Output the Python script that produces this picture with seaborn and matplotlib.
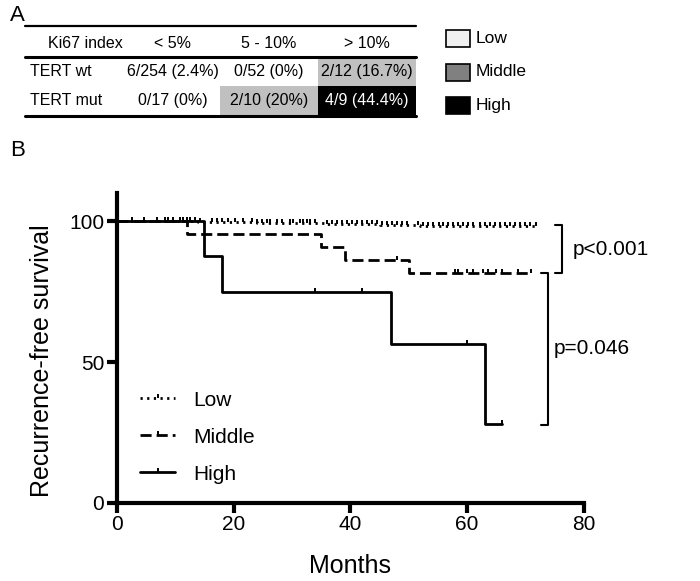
"""Ki67 / TERT table and recurrence-free survival curves"""
import matplotlib
matplotlib.use("Agg")
import matplotlib.pyplot as plt
from matplotlib.lines import Line2D
from matplotlib.patches import Rectangle
import seaborn as sns
import pandas as pd
import numpy as np

sns.set_style("white", {'axes.edgecolor': 'black', 'text.color': 'black',
                        'xtick.color': 'black', 'ytick.color': 'black',
                        'axes.labelcolor': 'black'})
plt.rcParams['font.family'] = ['Liberation Sans', 'DejaVu Sans']

# ---- panel A data ----
col_labels = ['Ki67 index', '< 5%', '5 - 10%', '> 10%']
row_labels = ['TERT wt', 'TERT mut']
cell_text = [['6/254 (2.4%)', '0/52 (0%)', '2/12 (16.7%)'],
             ['0/17 (0%)', '2/10 (20%)', '4/9 (44.4%)']]
cell_level = [['Low', 'Low', 'Middle'],
              ['Low', 'Middle', 'High']]
level_names = ['Low', 'Middle', 'High']

# ---- panel B data (Kaplan-Meier steps) ----
low_t = [0, 14, 24, 36, 45, 52, 60, 72]
low_s = [100, 99.7, 99.4, 99.0, 98.7, 98.4, 98.2, 98.2]
mid_t = [0, 12, 35, 39, 50, 71]
mid_s = [100, 95.5, 90.9, 86.2, 81.6, 81.6]
high_t = [0, 15, 18, 47, 63, 66]
high_s = [100, 87.5, 75.0, 56.25, 28.1, 28.1]

low_cens = [2.6, 4.7, 6.9, 8.3, 8.8, 9.6, 10.8, 11.4, 12.0, 12.5, 13.4, 14.3,
            16.3, 17.2, 18.0, 19.0, 20.2, 21.6, 23.1, 24.0, 24.9, 25.7, 26.2,
            27.4, 28.3, 29.7, 30.2, 31.4, 31.9, 32.6, 33.1, 34.0, 36.0, 36.9,
            37.7, 38.6, 39.4, 40.3, 41.2, 42.0, 42.9, 43.7, 44.6, 45.5, 46.3,
            47.1, 48.0, 48.9, 49.7, 51.6, 52.5, 53.3, 54.2, 55.1, 55.9, 56.8,
            57.6, 58.5, 59.3, 60.2, 61.0, 62.2, 63.1, 63.9, 64.8, 65.6, 66.5,
            67.4, 68.2, 69.1, 69.9, 70.8, 71.7]
mid_cens = [48, 58, 58.5, 60, 61, 62.7, 63.6, 65, 66, 68.7, 71]
high_cens = [34, 42, 60, 66]

p_labels = ['p<0.001', 'p=0.046']

fig = plt.figure(figsize=(7, 5.81), dpi=100)

# ================= panel A : table =================
ax_a = fig.add_axes([0, 1 - 130 / 581, 1, 130 / 581])
ax_a.set_xlim(0, 700)
ax_a.set_ylim(130, 0)
ax_a.axis('off')

fill = {'Low': 'white', 'Middle': '#c0c0c0', 'High': 'black'}
box_fill = {'Low': '#f0f0f0', 'Middle': '#808080', 'High': 'black'}
col_edges = [25, 125, 220, 318, 416]
row_edges = [57, 86, 115]

fig.text(0.014, 0.974, 'A', fontsize=16, va='center', ha='left')

ax_a.plot([25, 416], [26, 26], color='black', lw=1.6)
ax_a.plot([25, 416], [56.5, 56.5], color='black', lw=2.2)
ax_a.plot([25, 416], [116, 116], color='black', lw=2.2)

ax_a.text(85, 43, col_labels[0], ha='center', va='center', fontsize=11.5)
for j, lab in enumerate(col_labels[1:]):
    xc = (col_edges[j + 1] + col_edges[j + 2]) / 2
    ax_a.text(xc, 43, lab, ha='center', va='center', fontsize=11.5)

for i, rl in enumerate(row_labels):
    y0, y1 = row_edges[i], row_edges[i + 1]
    yc = (y0 + y1) / 2
    ax_a.text(30, yc, rl, ha='left', va='center', fontsize=11.5)
    for j, txt in enumerate(cell_text[i]):
        x0, x1 = col_edges[j + 1], col_edges[j + 2]
        lvl = cell_level[i][j]
        ax_a.add_patch(Rectangle((x0, y0), x1 - x0, y1 - y0,
                                 facecolor=fill[lvl], edgecolor='none'))
        ax_a.text((x0 + x1) / 2, yc, txt, ha='center', va='center',
                  fontsize=11.5, color='white' if lvl == 'High' else 'black')

# colour key
for k, lvl in enumerate(level_names):
    yb = 30 + k * 33.5
    ax_a.add_patch(Rectangle((446, yb), 24, 17, facecolor=box_fill[lvl],
                             edgecolor='black', lw=1.2))
    ax_a.text(476, yb + 8.5, lvl, ha='left', va='center', fontsize=12.5)

# ================= panel B : survival =================
fig.text(0.014, 1 - 151 / 581, 'B', fontsize=16, va='center', ha='left')

ax = fig.add_axes([116.7 / 700, 1 - 503 / 581, 467.3 / 700, 310 / 581])

curves = pd.concat([
    pd.DataFrame({'months': low_t, 'survival': low_s, 'group': 'Low'}),
    pd.DataFrame({'months': mid_t, 'survival': mid_s, 'group': 'Middle'}),
    pd.DataFrame({'months': high_t, 'survival': high_s, 'group': 'High'}),
])
dash_map = {'Low': (0.8, 1.6), 'Middle': (4, 1.8), 'High': ''}
sns.lineplot(data=curves, x='months', y='survival', style='group',
             dashes=dash_map, color='black', linewidth=2,
             drawstyle='steps-post', legend=False, ax=ax)

tick_marker = [(0, 0), (0, 1)]


def surv_at(times, t, s):
    t = np.asarray(t)
    s = np.asarray(s)
    idx = np.searchsorted(t, times, side='right') - 1
    return s[idx]


for cens, t, s in [(low_cens, low_t, low_s), (mid_cens, mid_t, mid_s),
                   (high_cens, high_t, high_s)]:
    ax.plot(cens, surv_at(cens, t, s), ls='none', marker=tick_marker,
            markersize=6, markeredgewidth=1.4, color='black', clip_on=False)

# p-value brackets
brackets = [(low_s[-1] + 0.4, mid_s[-1], 75.0, 76.2, 78.0),
            (mid_s[-1], high_s[-1] - 0.4, 72.7, 73.9, 74.8)]
for (ytop, ybot, xa, xb, xt), lab in zip(brackets, p_labels):
    ax.plot([xa, xb, xb, xa], [ytop, ytop, ybot, ybot], color='black',
            lw=1.5, clip_on=False)
    ax.text(xt, (ytop + ybot) / 2, lab, ha='left', va='center', fontsize=15)

ax.set_xlim(0, 80)
ax.set_ylim(0, 110)
ax.set_xticks([0, 20, 40, 60, 80])
ax.set_yticks([0, 50, 100])
sns.despine(ax=ax)
for sp in ['left', 'bottom']:
    ax.spines[sp].set_linewidth(3)
ax.tick_params(axis='both', which='major', length=7, width=3, labelsize=15,
               pad=2, direction='out', left=True, bottom=True)
ax.set_xlabel('Months', fontsize=18)
ax.set_ylabel('Recurrence-free survival', fontsize=18)
ax.xaxis.set_label_coords(0.5, -0.165)
ax.yaxis.set_label_coords(-0.135, 0.458)

handles = []
for g in level_names:
    ls = (0, dash_map[g]) if dash_map[g] else '-'
    handles.append(Line2D([], [], color='black', lw=2, linestyle=ls,
                          marker=tick_marker, markersize=6,
                          markeredgewidth=1.4))
ax.legend(handles, level_names, loc='upper left', bbox_to_anchor=(0.05, 0.362),
          frameon=False, fontsize=15, handlelength=1.7, handletextpad=0.85,
          labelspacing=0.86, borderpad=0, borderaxespad=0, numpoints=1)

fig.savefig('out.png', dpi=100)
